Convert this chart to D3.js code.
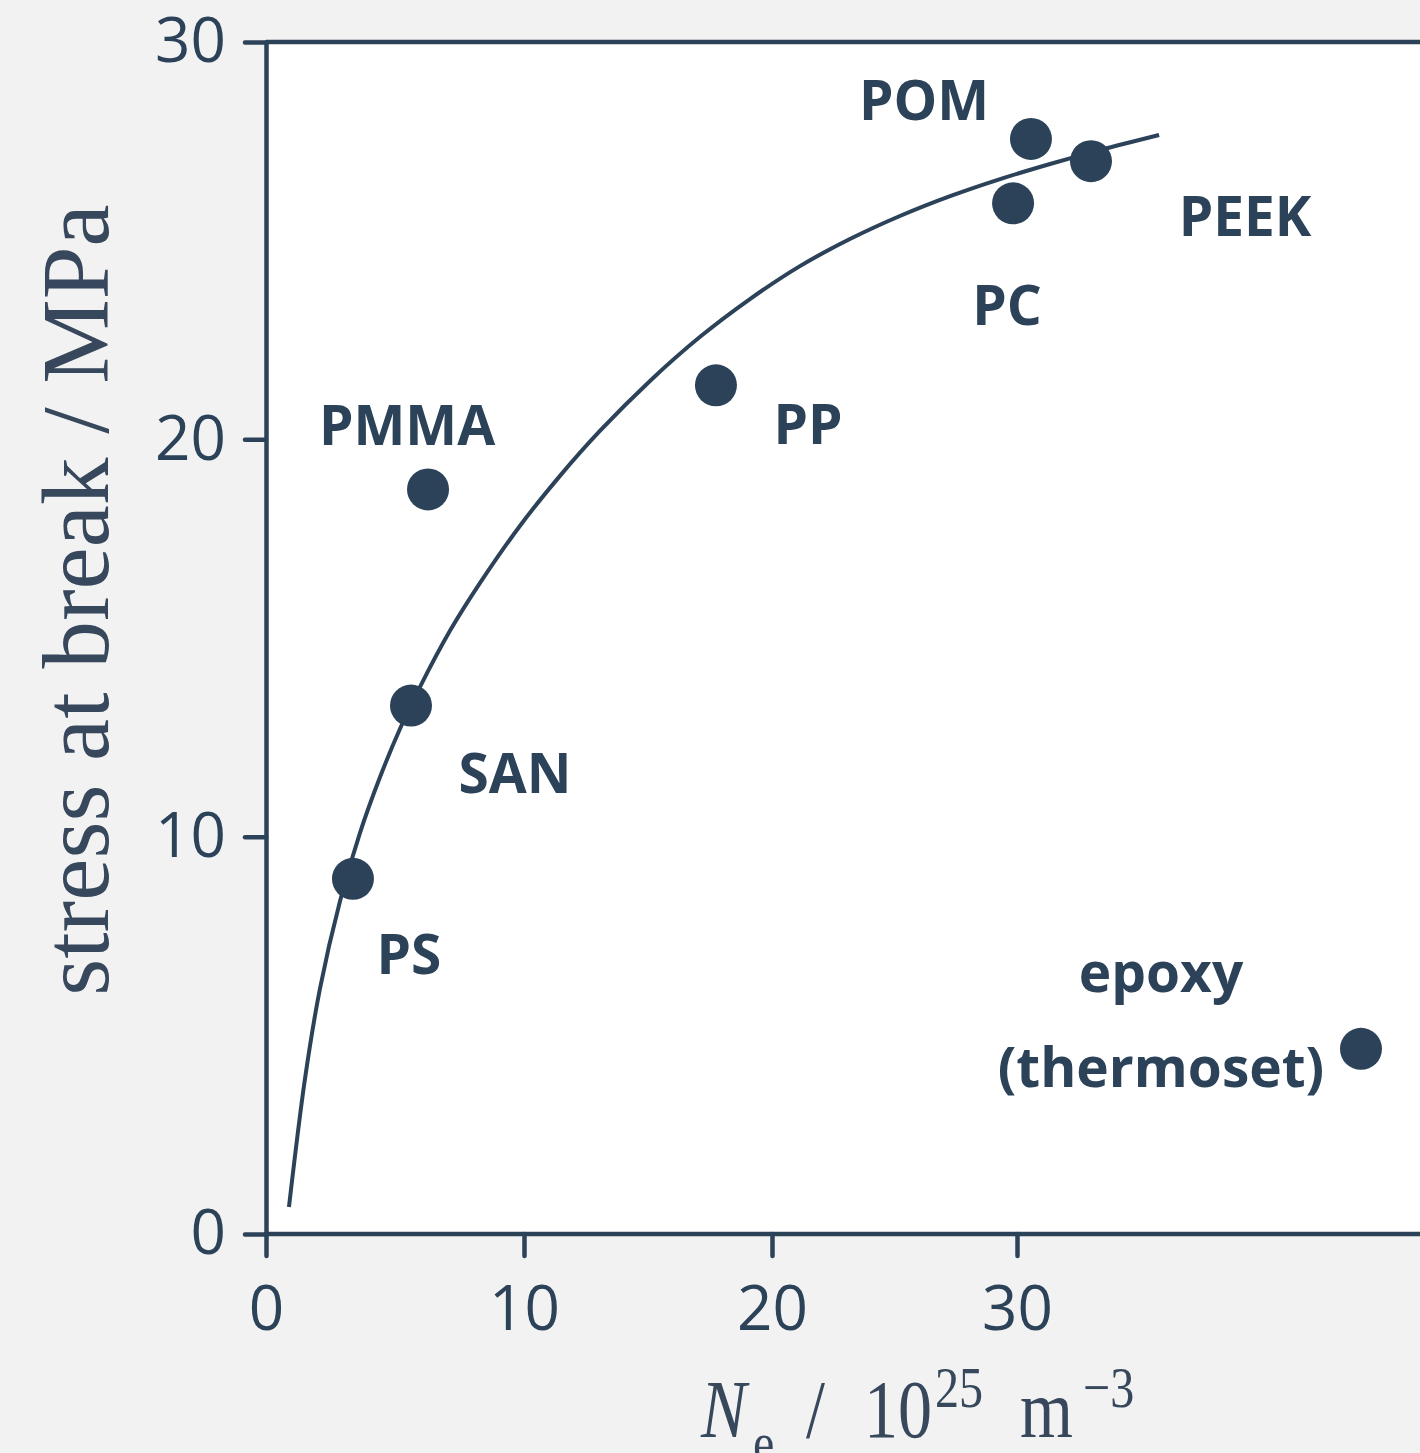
<!DOCTYPE html>
<html>
<head>
<meta charset="utf-8">
<script src="https://cdn.jsdelivr.net/npm/d3@7"></script>
<style>
  html, body { margin: 0; padding: 0; background: #f2f2f2; }
  svg { display: block; }
</style>
</head>
<body>
<svg id="chart" width="1420" height="1453"></svg>
<script>
// ---- data ----
const materials = ["PS", "SAN", "PMMA", "PP", "PC", "POM", "PEEK", "epoxy"];
const entanglementDensity = [3.37, 5.62, 6.28, 17.74, 29.84, 30.57, 33.02, 44.04];
const stressAtBreak = [8.94, 13.30, 18.74, 21.36, 25.94, 27.56, 27.00, 4.66];

// trend curve
const curveNe = [0.89, 1.51, 2.09, 2.87, 3.64, 4.42, 5.19, 5.97, 7.13, 8.29, 9.84, 11.45,
  13.06, 15.08, 17.10, 19.11, 21.14, 23.18, 25.22, 27.27, 29.31, 31.35, 33.39, 35.80];
const curveStress = [0.68, 3.90, 6.17, 8.38, 10.09, 11.50, 12.71, 13.77, 15.18, 16.38, 17.82, 19.08,
  20.21, 21.47, 22.58, 23.53, 24.36, 25.04, 25.62, 26.12, 26.55, 26.93, 27.28, 27.66];

const xTicks = [0, 10, 20, 30];
const yTicks = [0, 10, 20, 30];

// ---- layout / style ----
const ink = "#2c4259";
const titleInk = "#37475c";
const labelLines = {
  PS: ["PS"], SAN: ["SAN"], PMMA: ["PMMA"], PP: ["PP"], PC: ["PC"],
  POM: ["POM"], PEEK: ["PEEK"], epoxy: ["epoxy", "(thermoset)"]
};
// label centre offsets from point (px), baseline of first line
const labelOffset = {
  PS: [56, 95], SAN: [104, 87], PMMA: [-21, -44], PP: [92, 59],
  PC: [-6, 122], POM: [-107, -19], PEEK: [154, 75], epoxy: [-200, -57]
};
const lineGap = 95;

const svg = d3.select("#chart");
svg.append("rect").attr("width", 1420).attr("height", 1453).attr("fill", "#f2f2f2");

const x = d3.scaleLinear().domain([0, 10, 20, 30]).range([266, 524, 772, 1017]);
const y = d3.scaleLinear().domain([0, 30]).range([1234, 42]);

// plot area
svg.append("rect")
  .attr("x", x(0)).attr("y", y(30))
  .attr("width", 1420 - x(0)).attr("height", y(0) - y(30))
  .attr("fill", "#ffffff");

// top border
svg.append("line")
  .attr("x1", x(0)).attr("x2", 1420)
  .attr("y1", y(30)).attr("y2", y(30))
  .attr("stroke", ink).attr("stroke-width", 4.5);

// axes
const xAxis = d3.axisBottom(x).tickValues(xTicks).tickSize(22).tickSizeOuter(0).tickPadding(30);
const yAxis = d3.axisLeft(y).tickValues(yTicks).tickSize(21).tickSizeOuter(0).tickPadding(19);

const gx = svg.append("g").attr("transform", `translate(0,${y(0)})`).call(xAxis);
gx.select(".domain").attr("d", `M${x(0)},0H1420`);
const gy = svg.append("g").attr("transform", `translate(${x(0)},0)`).call(yAxis);

[gx, gy].forEach(g => {
  g.select(".domain").attr("stroke", ink).attr("stroke-width", 4.5).attr("stroke-linecap", "round");
  g.selectAll(".tick line").attr("stroke", ink).attr("stroke-width", 4.5).attr("stroke-linecap", "round");
  g.selectAll(".tick text")
    .attr("fill", ink)
    .attr("font-family", "'Open Sans', sans-serif")
    .attr("font-size", 62);
});

// curve
const curvePts = curveNe.map((v, i) => [v, curveStress[i]]);
svg.append("path")
  .datum(curvePts)
  .attr("fill", "none")
  .attr("stroke", ink)
  .attr("stroke-width", 4)
  .attr("stroke-linecap", "butt")
  .attr("d", d3.line().x(d => x(d[0])).y(d => y(d[1])).curve(d3.curveCatmullRom.alpha(0.5)));

// points
const pts = materials.map((m, i) => ({ name: m, ne: entanglementDensity[i], s: stressAtBreak[i] }));
svg.append("g").selectAll("circle")
  .data(pts).join("circle")
  .attr("cx", d => x(d.ne)).attr("cy", d => y(d.s))
  .attr("r", 21).attr("fill", ink);

// labels
const lab = svg.append("g")
  .attr("font-family", "'Open Sans', sans-serif")
  .attr("font-weight", 700)
  .attr("font-size", 55)
  .attr("fill", ink)
  .attr("text-anchor", "middle");
pts.forEach(d => {
  const [dx, dy] = labelOffset[d.name];
  labelLines[d.name].forEach((t, k) => {
    lab.append("text")
      .attr("x", x(d.ne) + dx)
      .attr("y", y(d.s) + dy + k * lineGap)
      .text(t);
  });
});

// y axis title
svg.append("text")
  .attr("transform", "translate(108,600) rotate(-90)")
  .attr("text-anchor", "middle")
  .attr("font-family", "'Liberation Serif', 'Times New Roman', serif")
  .attr("font-size", 95)
  .attr("fill", titleInk)
  .text("stress at break / MPa");

// x axis title (horizontally condensed serif, as in the reference)
const sx = 0.83, x0 = 701;
const xt = svg.append("text")
  .attr("transform", `translate(${x0},0) scale(${sx},1)`)
  .attr("font-family", "'Liberation Serif', 'Times New Roman', serif")
  .attr("fill", titleInk)
  .attr("font-size", 82);
const part = (px, py, txt, size, italic) => {
  const t = xt.append("tspan").attr("x", (px - x0) / sx).attr("y", py).text(txt);
  if (size) t.attr("font-size", size);
  if (italic) t.attr("font-style", "italic");
};
part(701, 1437, "N", null, true);
part(753, 1462, "e", 58);
part(806, 1437, "/");
part(864, 1437, "10");
part(935, 1407, "25", 58);
part(1020, 1437, "m");
part(1083, 1407, "\u22123", 58);
</script>
</body>
</html>
